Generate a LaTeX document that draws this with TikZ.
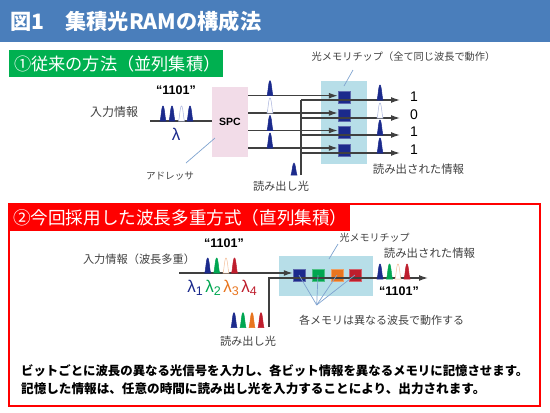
\documentclass[tikz,border=0pt]{standalone}
\usepackage{fontspec}
\setmainfont{Noto Sans CJK JP}
\newfontfamily\latinfont{Liberation Sans}
\usetikzlibrary{arrows.meta}
\definecolor{bannerblue}{HTML}{4A7EBB}
\definecolor{headgreen}{HTML}{00B050}
\definecolor{spcpink}{HTML}{F2DCE8}
\definecolor{chipcyan}{HTML}{B7DEE8}
\definecolor{sqblue}{HTML}{1B2A8C}
\definecolor{sqgreen}{HTML}{00A651}
\definecolor{sqorange}{HTML}{E8751F}
\definecolor{sqred}{HTML}{BE1E2D}
\definecolor{paleblue}{HTML}{A8B2DC}
\definecolor{paleorange}{HTML}{F5BE9A}
\definecolor{leader}{HTML}{7FA3CF}
\definecolor{linegray}{HTML}{404040}
\tikzset{
	label/.style={text=linegray, inner sep=0pt, font=\fontsize{#1}{12}\selectfont},
	label/.default=11,
	head/.style={text=white, anchor=west, inner sep=0pt, font=\fontsize{#1}{18}\selectfont},
	digit/.style={inner sep=0pt, font=\latinfont\fontsize{14}{16}\selectfont},
	code/.style={inner sep=0pt, font=\latinfont\bfseries\fontsize{12.5}{14}\selectfont},
	note/.style={inner sep=0pt, anchor=west, font=\bfseries\fontsize{#1}{14}\selectfont},
	lam/.style={inner sep=0pt, font=\latinfont\fontsize{17}{18}\selectfont},
	chip/.style={draw=#1!70!white, fill=#1, minimum size=12pt, inner sep=0pt, line width=.5pt},
	wire/.style={draw=linegray, line width=1.3pt},
	arrowwire/.style={wire, -{Latex[length=9pt,width=6pt]}},
	lead/.style={draw=leader, line width=.7pt},
	pics/pulse/.style 2 args={code={
		\path[draw=#1, fill=#2, line width=.5pt] (-3,0) .. controls (-2,-2) and (-1.5,-15) .. (0,-15) .. controls (1.5,-15) and (2,-2) .. (3,0) -- cycle;
	}}
}
\newcommand{\lamsub}[1]{λ\raisebox{-2.5pt}{\fontsize{12.5}{13}\selectfont #1}}
\begin{document}
\begin{tikzpicture}[x=1pt,y=-1pt]
	\useasboundingbox (0,0) rectangle (550,413);
	\node (banner) at (275,21) [fill=bannerblue, minimum width=550pt, minimum height=42pt, inner sep=0pt] {};
	\node (title) at (10,21) [text=white, anchor=west, inner sep=0pt, font=\bfseries\fontsize{21.2}{22}\selectfont] {図1　集積光RAMの構成法};

	% conventional
	\node (headone) at (116,63.5) [fill=headgreen, minimum width=214pt, minimum height=27pt, inner sep=0pt] {};
	\node (headonetext) at (14,63.5) [head=17.2] {①従来の方法（並列集積）};
	\node (spc) at (230,122) [fill=spcpink, minimum width=36pt, minimum height=70pt, inner sep=0pt, font=\latinfont\bfseries\fontsize{10.5}{13}\selectfont] {SPC};
	\node (chipbox) at (343.7,122.5) [fill=chipcyan, minimum width=46pt, minimum height=83pt, inner sep=0pt] {};
	\node (bits) at (176,90) [code] {“1101”};
	\node (input) at (114,112) [label=12] {入力情報};
	\node (lambda) at (176,134) [lam, text=sqblue] {λ};
	\node (addr) at (170,176) [label=9.6] {アドレッサ};
	\node (read) at (281,186) [label=11.2] {読み出し光};
	\node (chiplabel) at (403.5,57) [label=10.2] {光メモリチップ（全て同じ波長で動作）};
	\node (outlabel) at (418.5,169) [label=11.4] {読み出された情報};
	\coordinate (inl) at (150,121);
	\coordinate (inr) at (212,121);
	\draw[wire] (inl) -- (inr);
	\coordinate (addrend) at (215,138);
	\coordinate (addrtail) at (186,163);
	\draw[lead] (addrend) -- (addrtail);
	\coordinate (chiptop) at (344,86);
	\coordinate (chiptail) at (353,70);
	\draw[lead] (chiptop) -- (chiptail);
	\foreach \i/\y in {1/97,2/115,3/132.5,4/150} {
		\node (mem\i) at (344,\y) [chip=sqblue] {};
	}
	\coordinate (readfoot) at (301,175);
	\foreach \i/\y/\o/\d in {1/95.7/100/1,2/113/118/0,3/130.5/135/1,4/148/153/1} {
		\coordinate (spc\i) at (248,\y);
		\coordinate (rd\i) at (301,\o);
		\coordinate (out\i) at (400,\o);
		\draw[arrowwire] (spc\i) -- (mem\i.west |- spc\i);
		\draw[arrowwire] (rd\i) -- (out\i);
		\node (digit\i) at (414,\o-3) [digit] {\d};
	}
	\draw[wire] (readfoot) -- (rd1);
	\foreach \x/\c/\f in {163/sqblue/sqblue,172/sqblue/sqblue,181.5/paleblue/white,190/sqblue/sqblue} {
		\pic at (\x,121) {pulse={\c}{\f}};
	}
	\foreach \y/\o/\c/\f in {95.7/100/sqblue/sqblue,113/118/paleblue/white,130.5/135/sqblue/sqblue,148/153/sqblue/sqblue} {
		\pic at (270,\y) {pulse={\c}{\f}};
		\pic at (380,\o) {pulse={\c}{\f}};
	}
	\pic at (294,175) [yscale=.8] {pulse={sqblue}{sqblue}};

	% wavelength multiplexing
	\node (frame) at (274.5,305) [draw=red, line width=1.2pt, minimum width=531pt, minimum height=202pt, inner sep=0pt] {};
	\node (headtwo) at (179.5,217.5) [fill=red, minimum width=341pt, minimum height=27pt, inner sep=0pt] {};
	\node (headtwotext) at (13,217.5) [head=17.6] {②今回採用した波長多重方式（直列集積）};
	\node (wdmbox) at (325.8,275.8) [fill=chipcyan, minimum width=94pt, minimum height=40pt, inner sep=0pt] {};
	\node (wdmbits) at (224,243) [code] {“1101”};
	\node (wdminput) at (139,259) [label=11.2] {入力情報（波長多重）};
	\node (wdmread) at (248,341) [label=11.2] {読み出し光};
	\node (wdmchip) at (374.5,238) [label=10] {光メモリチップ};
	\node (wdmout) at (429.5,253) [label=11.4] {読み出された情報};
	\node (wdmoutbits) at (399,291) [code] {“1101”};
	\node (wdmnote) at (381.5,320) [label=11] {各メモリは異なる波長で動作する};
	\foreach \i/\x/\c in {1/299/sqblue,2/318/sqgreen,3/337/sqorange,4/355/sqred} {
		\node (sq\i) at (\x,275) [chip=\c] {};
	}
	\foreach \i/\x/\c in {1/195/sqblue,2/213/sqgreen,3/231/sqorange,4/249/sqred} {
		\node (lam\i) at (\x,288) [lam, text=\c] {\lamsub{\i}};
	}
	\coordinate (wdmin) at (179,273);
	\draw[arrowwire] (wdmin) -- (sq1.west |- wdmin);
	\coordinate (wdmfoot) at (269,327);
	\coordinate (wdmturn) at (269,278);
	\coordinate (wdmend) at (428,278);
	\draw[arrowwire] (wdmfoot) -- (wdmturn) -- (wdmend);
	\coordinate (wdmtop) at (329,259);
	\coordinate (wdmtail) at (338,244);
	\draw[lead] (wdmtop) -- (wdmtail);
	\coordinate (fan) at (316.7,305);
	\foreach \i in {1,...,4} {
		\draw[lead] (fan) -- (sq\i.center);
	}
	\foreach \x/\c/\f in {207.7/sqblue/sqblue,216.7/sqgreen/sqgreen,226/paleorange/white,234.5/sqred/sqred} {
		\pic at (\x,273) {pulse={\c}{\f}};
	}
	\foreach \x/\c in {234/sqblue,243/sqgreen,252/sqorange,261/sqred} {
		\pic at (\x,327.7) {pulse={\c}{\c}};
	}
	\foreach \x/\c/\f in {380/sqblue/sqblue,389.5/sqgreen/sqgreen,398/paleorange/white,407/sqred/sqred} {
		\pic at (\x,279) {pulse={\c}{\f}};
	}
	\node (noteone) at (21,371) [note=12.4] {ビットごとに波長の異なる光信号を入力し、各ビット情報を異なるメモリに記憶させます。};
	\node (notetwo) at (21,388.5) [note=12.6] {記憶した情報は、任意の時間に読み出し光を入力することにより、出力されます。};
\end{tikzpicture}
\end{document}
